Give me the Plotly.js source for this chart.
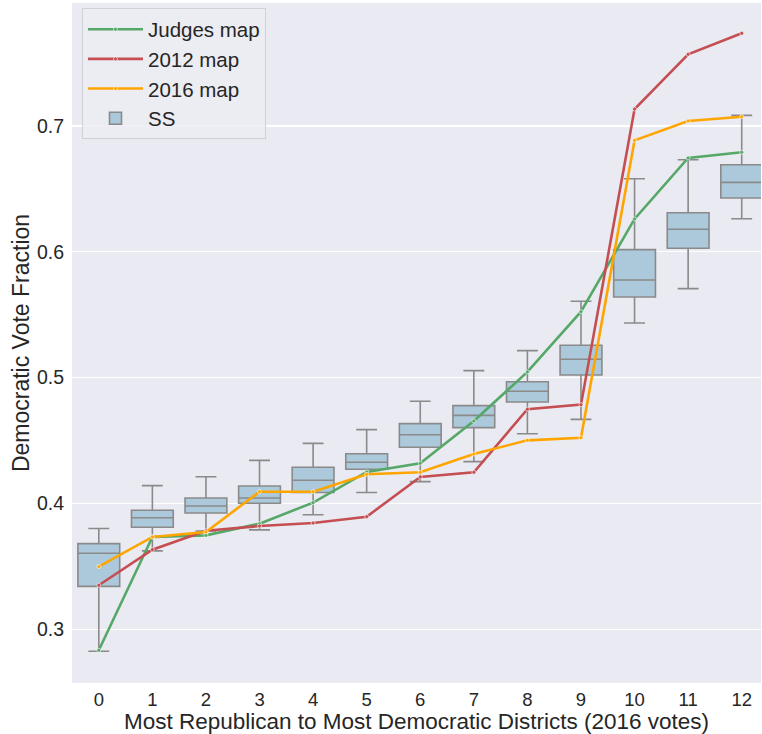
<!DOCTYPE html>
<html>
<head>
<meta charset="utf-8">
<script src="https://cdn.plot.ly/plotly-3.0.1.min.js"></script>
<style>html,body{margin:0;padding:0;background:#fff;overflow:hidden;}</style>
</head>
<body>
<div id="chart" style="width:762px;height:734px;"></div>
<script>
const districts = [0,1,2,3,4,5,6,7,8,9,10,11,12];
const tickLabels = ["0","1","2","3","4","5","6","7","8","9","10","11","12"];

// SS ensemble box statistics
const ssLower  = [0.2824,0.3622,0.3780,0.3789,0.3910,0.4086,0.4173,0.4332,0.4554,0.4668,0.5434,0.5707,0.6263];
const ssQ1     = [0.3340,0.3810,0.3924,0.4001,0.4087,0.4271,0.4446,0.4602,0.4806,0.5021,0.5641,0.6028,0.6428];
const ssMedian = [0.3603,0.3886,0.3979,0.4043,0.4184,0.4327,0.4546,0.4700,0.4891,0.5146,0.5776,0.6179,0.6552];
const ssQ3     = [0.3680,0.3945,0.4043,0.4138,0.4287,0.4395,0.4634,0.4777,0.4967,0.5257,0.6017,0.6311,0.6692];
const ssUpper  = [0.3800,0.4141,0.4212,0.4342,0.4477,0.4586,0.4812,0.5055,0.5214,0.5607,0.6581,0.6732,0.7085];

// Map lines
const judgesMap = [0.2832,0.3733,0.3746,0.3839,0.4006,0.4250,0.4319,0.4655,0.5045,0.5524,0.6261,0.6746,0.6791];
const map2012   = [0.3349,0.3632,0.3783,0.3820,0.3844,0.3894,0.4210,0.4247,0.4749,0.4785,0.7135,0.7570,0.7737];
const map2016   = [0.3497,0.3733,0.3773,0.4093,0.4093,0.4231,0.4247,0.4393,0.4501,0.4522,0.6886,0.7040,0.7074];

const font = "Liberation Sans, Arial, sans-serif";
const txt = "#262626";

function lineTrace(name, y, color, rank) {
  return {
    type: "scatter", mode: "lines+markers", name: name,
    x: districts, y: y, legendrank: rank,
    line: {color: color, width: 2.6},
    marker: {color: color, size: 4, line: {color: "#ffffff", width: 0.6}}
  };
}

const traces = [
  {
    type: "box", name: "SS", legendrank: 4,
    x: districts, q1: ssQ1, median: ssMedian, q3: ssQ3,
    lowerfence: ssLower, upperfence: ssUpper,
    boxpoints: false, width: 0.78, whiskerwidth: 0.5,
    fillcolor: "#abc9db",
    line: {color: "#8a8a8a", width: 1.6}
  },
  lineTrace("Judges map", judgesMap, "#55a868", 1),
  lineTrace("2012 map", map2012, "#c44e52", 2),
  lineTrace("2016 map", map2016, "#ffa500", 3)
];

const layout = {
  width: 762, height: 734,
  margin: {l: 72, r: 1, t: 3, b: 51},
  paper_bgcolor: "#ffffff",
  plot_bgcolor: "#eaeaf2",
  font: {family: font, color: txt, size: 18},
  showlegend: true,
  legend: {
    x: 0.0145, y: 0.992, xanchor: "left", yanchor: "top",
    bgcolor: "rgba(236,236,243,0.85)", bordercolor: "#d0d0d8", borderwidth: 1,
    font: {family: font, size: 20.5, color: txt},
    tracegroupgap: 0, itemwidth: 55
  },
  xaxis: {
    range: [-0.5, 12.36],
    tickmode: "array", tickvals: districts, ticktext: tickLabels,
    showgrid: false, zeroline: false, showline: false, ticks: "",
    ticklabelstandoff: 3,
    tickfont: {family: font, size: 18.5, color: txt},
    title: {text: "Most Republican to Most Democratic Districts (2016 votes)",
            font: {family: font, size: 22.5, color: txt}, standoff: 1}
  },
  yaxis: {
    range: [0.2572, 0.7978],
    tickmode: "array", tickvals: [0.3,0.4,0.5,0.6,0.7], ticktext: ["0.3","0.4","0.5","0.6","0.7"],
    showgrid: true, gridcolor: "#ffffff", gridwidth: 1.2,
    zeroline: false, showline: false, ticks: "",
    ticklabelstandoff: 7,
    tickfont: {family: font, size: 19.5, color: txt},
    title: {text: "Democratic Vote Fraction",
            font: {family: font, size: 23, color: txt}, standoff: 0}
  }
};

Plotly.newPlot("chart", traces, layout, {displayModeBar: false, staticPlot: true});
</script>
</body>
</html>
